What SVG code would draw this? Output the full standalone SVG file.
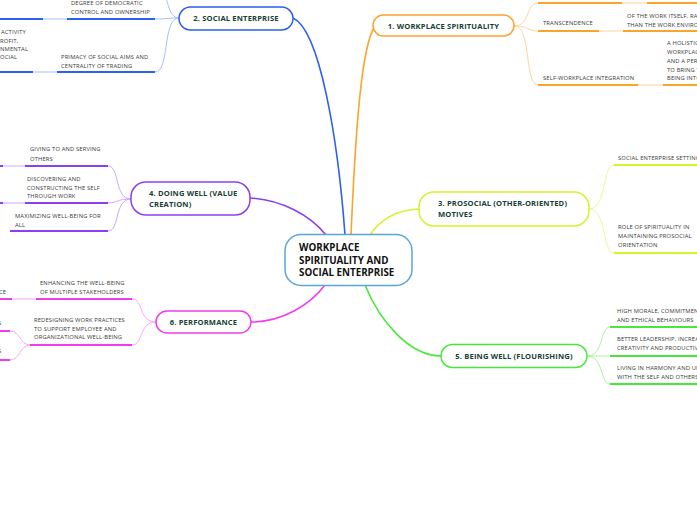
<svg xmlns="http://www.w3.org/2000/svg" width="697" height="520" viewBox="0 0 697 520">
<style>
.node rect{fill:#fff;stroke-width:1.5}
.lbl{font-family:"Open Sans","DejaVu Sans",sans-serif;font-weight:bold;font-size:7.6px;letter-spacing:0.15px;fill:#173f35}
.ctr{font-family:"Open Sans","DejaVu Sans",sans-serif;font-weight:bold;font-size:9.8px;fill:#111}
.leaf{font-family:"Open Sans","DejaVu Sans",sans-serif;font-size:5.8px;letter-spacing:0.15px;fill:#3a3a3a}
.c path{fill:none}
.m{stroke-width:1.6}
.f{stroke-width:1}
.u{stroke-width:2}
.or{stroke:#f9a52c}.orl{stroke:#fdd49c}
.bl{stroke:#2d5ff0}.bll{stroke:#a9c0f7}
.ye{stroke:#d6f22a}.yel{stroke:#ecf99a}
.pu{stroke:#8c3ff2}.pul{stroke:#cba8f8}
.gr{stroke:#4ae63a}.grl{stroke:#aaf2a0}
.mg{stroke:#ee3cee}.mgl{stroke:#f7a8f7}
</style>
<g id="connectors" class="c">
<!-- main -->
<path class="m or" d="M351,235 C356,120 362,45 375,26"/>
<path class="m bl" d="M345,235 C338,140 320,30 293,18"/>
<path class="m ye" d="M370,235 C380,220 395,210 419,209"/>
<path class="m pu" d="M250,198 C282,200 310,215 326,235"/>
<path class="m mg" d="M325,285 C310,305 282,322 251,322"/>
<path class="m gr" d="M365,285 C380,322 410,356 441,356"/>
<!-- node 1 forks -->
<path class="f orl" d="M514,26 C530,26 526,3 538,3"/>
<path class="f orl" d="M514,26 C530,26 526,31 538,31"/>
<path class="f orl" d="M514,26 C532,26 524,85 538,85"/>
<path class="u or" d="M538,3 H622 M647,3 H697"/>
<path class="f orl" d="M622,3 H647"/>
<path class="u or" d="M538,31 H599 M623,31 H697"/>
<path class="f orl" d="M599,31 H623"/>
<path class="u or" d="M538,85 H638 M663,85 H697"/>
<path class="f orl" d="M638,85 H663"/>
<!-- node 2 forks -->
<path class="f bll" d="M179,18 C166,18 168,19 155,19"/>
<path class="f bll" d="M179,18 C164,18 168,-20 155,-25"/>
<path class="f bll" d="M179,18 C162,18 170,72 155,72"/>
<path class="u bl" d="M67,19 H155 M0,19 H43"/>
<path class="f bll" d="M43,19 H67"/>
<path class="u bl" d="M57,72 H155 M0,72 H33"/>
<path class="f bll" d="M33,72 H57"/>
<!-- node 4 forks -->
<path class="f pul" d="M131,199 C114,199 120,166 108,166"/>
<path class="f pul" d="M131,199 C116,199 118,203 108,203"/>
<path class="f pul" d="M131,199 C114,199 120,231 108,231"/>
<path class="u pu" d="M25,166 H108 M0,166 H3"/>
<path class="f pul" d="M3,166 H25"/>
<path class="u pu" d="M25,203 H108 M0,203 H3"/>
<path class="f pul" d="M3,203 H25"/>
<path class="u pu" d="M10,231 H108"/>
<!-- node 6 forks -->
<path class="f mgl" d="M156,322 C138,322 144,299 132,299"/>
<path class="f mgl" d="M156,322 C138,322 144,345 132,345"/>
<path class="u mg" d="M36,299 H132 M0,299 H12"/>
<path class="f mgl" d="M12,299 H36"/>
<path class="u mg" d="M30,345 H132 M0,331 H10 M0,360 H10"/>
<path class="f mgl" d="M30,345 C20,345 20,331 10,331 M30,345 C20,345 20,360 10,360"/>
<!-- node 3 forks -->
<path class="f yel" d="M589,209 C607,209 602,165 614,165"/>
<path class="f yel" d="M589,209 C607,209 602,253 614,253"/>
<path class="u ye" d="M614,165 H697 M614,253 H697"/>
<!-- node 5 forks -->
<path class="f grl" d="M587,356 C604,356 600,327 610,327"/>
<path class="f grl" d="M587,356 H610"/>
<path class="f grl" d="M587,356 C604,356 600,384 610,384"/>
<path class="u gr" d="M610,327 H697 M610,356 H697 M610,384 H697"/>
</g>
<g id="center" class="node">
<rect x="285" y="234.5" width="127" height="51" rx="16" style="stroke:#5aa5dc"/>
<text class="ctr" x="299" y="251">WORKPLACE</text>
<text class="ctr" x="299" y="263.5">SPIRITUALITY AND</text>
<text class="ctr" x="299" y="276">SOCIAL ENTERPRISE</text>
</g>
<g id="n1" class="node">
<rect x="373" y="15" width="141" height="21" rx="10.5" style="stroke:#f9a52c"/>
<text class="lbl" x="443.5" y="28.5" text-anchor="middle">1. WORKPLACE SPIRITUALITY</text>
</g>
<g id="n1a"><text class="leaf" x="543" y="25">TRANSCENDENCE</text></g>
<g id="n1a1"><text class="leaf" x="627" y="18">OF THE WORK ITSELF, RATHER</text><text class="leaf" x="627" y="26.5">THAN THE WORK ENVIRONMENT</text></g>
<g id="n1b"><text class="leaf" x="543" y="80">SELF-WORKPLACE INTEGRATION</text></g>
<g id="n1b1"><text class="leaf" x="667" y="45">A HOLISTIC VIEW</text><text class="leaf" x="667" y="54">WORKPLACE AS</text><text class="leaf" x="667" y="63">AND A PERSON</text><text class="leaf" x="667" y="72">TO BRING THEIR</text><text class="leaf" x="667" y="80">BEING INTO WORK</text></g>
<g id="n2" class="node">
<rect x="179" y="7" width="114" height="23" rx="11.5" style="stroke:#2d5ff0"/>
<text class="lbl" x="236" y="21" text-anchor="middle">2. SOCIAL ENTERPRISE</text>
</g>
<g id="n2a"><text class="leaf" x="71" y="5">DEGREE OF DEMOCRATIC</text><text class="leaf" x="71" y="13.5">CONTROL AND OWNERSHIP</text></g>
<g id="n2b"><text class="leaf" x="61" y="59">PRIMACY OF SOCIAL AIMS AND</text><text class="leaf" x="61" y="68">CENTRALITY OF TRADING</text></g>
<g id="n2b1"><text class="leaf" x="1" y="34">ACTIVITY</text><text class="leaf" x="0" y="43">ROFIT,</text><text class="leaf" x="0" y="51">NMENTAL</text><text class="leaf" x="0" y="59">OCIAL</text></g>
<g id="n3" class="node">
<rect x="419" y="192" width="170" height="34" rx="15" style="stroke:#d6f22a"/>
<text class="lbl" x="438" y="205.5">3. PROSOCIAL (OTHER-ORIENTED)</text>
<text class="lbl" x="438" y="217">MOTIVES</text>
</g>
<g id="n3a"><text class="leaf" x="618" y="160">SOCIAL ENTERPRISE SETTING</text></g>
<g id="n3b"><text class="leaf" x="618" y="229">ROLE OF SPIRITUALITY IN</text><text class="leaf" x="618" y="238">MAINTAINING PROSOCIAL</text><text class="leaf" x="618" y="246.5">ORIENTATION</text></g>
<g id="n4" class="node">
<rect x="131" y="182" width="119" height="33" rx="15" style="stroke:#8c3ff2"/>
<text class="lbl" x="149" y="196">4. DOING WELL (VALUE</text>
<text class="lbl" x="149" y="206.5">CREATION)</text>
</g>
<g id="n4a"><text class="leaf" x="30" y="151">GIVING TO AND SERVING</text><text class="leaf" x="30" y="160.5">OTHERS</text></g>
<g id="n4b"><text class="leaf" x="27" y="181">DISCOVERING AND</text><text class="leaf" x="27" y="189.5">CONSTRUCTING THE SELF</text><text class="leaf" x="27" y="198">THROUGH WORK</text></g>
<g id="n4c"><text class="leaf" x="15" y="218">MAXIMIZING WELL-BEING FOR</text><text class="leaf" x="15" y="226.5">ALL</text></g>
<g id="n5" class="node">
<rect x="441" y="344.5" width="146" height="23" rx="11.5" style="stroke:#4ae63a"/>
<text class="lbl" x="514" y="358.5" text-anchor="middle">5. BEING WELL (FLOURISHING)</text>
</g>
<g id="n5a"><text class="leaf" x="617" y="313">HIGH MORALE, COMMITMENT</text><text class="leaf" x="617" y="321.5">AND ETHICAL BEHAVIOURS</text></g>
<g id="n5b"><text class="leaf" x="617" y="341">BETTER LEADERSHIP, INCREASED</text><text class="leaf" x="617" y="350">CREATIVITY AND PRODUCTIVITY</text></g>
<g id="n5c"><text class="leaf" x="617" y="370">LIVING IN HARMONY AND UNITY</text><text class="leaf" x="617" y="378.5">WITH THE SELF AND OTHERS</text></g>
<g id="n6" class="node">
<rect x="156" y="311" width="95" height="22" rx="11" style="stroke:#ee3cee"/>
<text class="lbl" x="203.5" y="324.5" text-anchor="middle">6. PERFORMANCE</text>
</g>
<g id="n6a"><text class="leaf" x="40" y="285">ENHANCING THE WELL-BEING</text><text class="leaf" x="40" y="294">OF MULTIPLE STAKEHOLDERS</text></g>
<g id="n6a1"><text class="leaf" x="-1" y="294">CE</text></g>
<g id="n6b"><text class="leaf" x="34" y="322">REDESIGNING WORK PRACTICES</text><text class="leaf" x="34" y="330.5">TO SUPPORT EMPLOYEE AND</text><text class="leaf" x="34" y="339">ORGANIZATIONAL WELL-BEING</text></g>
<g id="n6b1"><text class="leaf" x="-2" y="325">S</text></g>
<g id="n6b2"><text class="leaf" x="-2" y="353">S</text></g>
</svg>
